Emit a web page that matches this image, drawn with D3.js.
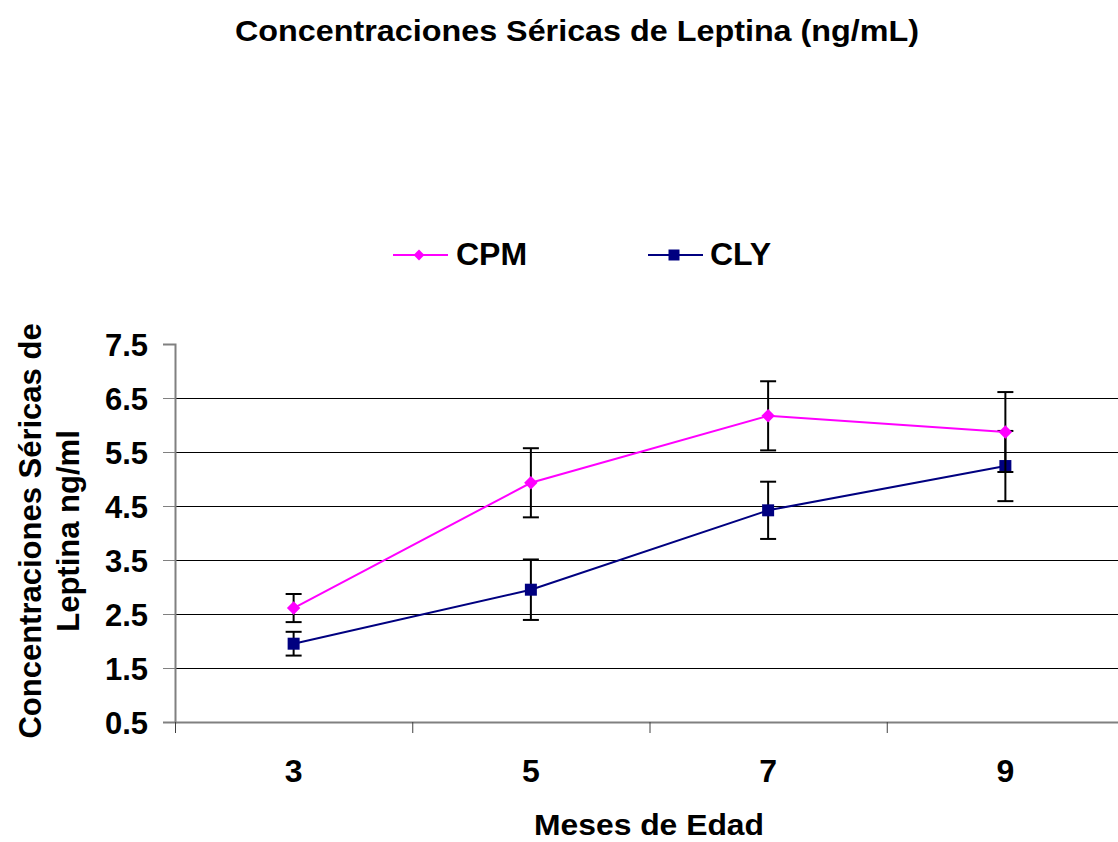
<!DOCTYPE html>
<html><head><meta charset="utf-8">
<script src="https://cdn.jsdelivr.net/npm/d3@7"></script>
<style>body{margin:0;background:#fff}svg{display:block;font-family:Arial,"Liberation Sans",sans-serif;font-weight:bold}</style>
</head><body>
<svg id="c" width="1118" height="842"></svg>
<script>
const categories = ["3","5","7","9"];
const cpm = [2.61, 4.93, 6.17, 5.87];
const cpmErr = [0.26, 0.64, 0.64, 0.74];
const cly = [1.95, 2.95, 4.42, 5.24];
const clyErr = [0.22, 0.56, 0.53, 0.65];
const yTicks = [0.5,1.5,2.5,3.5,4.5,5.5,6.5,7.5];

const svg = d3.select("#c");
const FF = "Arial, 'Liberation Sans', sans-serif";
const L = 175, R = 1124, T = 344, B = 722;
const x = d3.scaleBand().domain(categories).range([L, R]);
const y = d3.scaleLinear().domain([0.5, 7.5]).range([B, T]);

// title
svg.append("text").attr("x", 577).attr("y", 41).attr("text-anchor","middle")
  .attr("font-size", 30).attr("textLength", 684).attr("lengthAdjust","spacingAndGlyphs")
  .text("Concentraciones Séricas de Leptina (ng/mL)");

// gridlines
svg.append("g").selectAll("line").data(yTicks.filter(d => d > 0.5 && d < 7.5)).join("line")
  .attr("x1", L).attr("x2", R).attr("y1", d => y(d) + 0.5).attr("y2", d => y(d) + 0.5)
  .attr("stroke", "#000").attr("stroke-width", 1);

// y axis
const ya = svg.append("g").attr("transform", `translate(${L},0)`)
  .call(d3.axisLeft(y).tickValues(yTicks).tickFormat(d3.format(".1f")).tickSize(12).tickPadding(15));
ya.select(".domain").attr("stroke", "#808080").attr("stroke-width", 2);
ya.selectAll(".tick line").attr("stroke", "#808080").attr("stroke-width", 1);
ya.selectAll("text").attr("font-size", 31).attr("font-weight","bold").attr("fill","#000")
  .attr("font-family", FF).attr("dy", "0.36em");

// x axis
const xa = svg.append("g").attr("transform", `translate(0,${B})`)
  .call(d3.axisBottom(x).tickSize(0).tickPadding(37));
xa.select(".domain").attr("stroke", "#808080").attr("stroke-width", 2);
xa.selectAll("text").attr("font-size", 32).attr("font-weight","bold").attr("fill","#000")
  .attr("font-family", FF);
svg.append("g").selectAll("line").data(categories).join("line")
  .attr("x1", d => x(d) + 0.5).attr("x2", d => x(d) + 0.5).attr("y1", B).attr("y2", B + 11)
  .attr("stroke", "#404040").attr("stroke-width", 1);

// axis titles
svg.append("text").attr("x", 649).attr("y", 835).attr("text-anchor","middle")
  .attr("font-size", 30).attr("textLength", 230).attr("lengthAdjust","spacingAndGlyphs")
  .text("Meses de Edad");
const yt = svg.append("text").attr("transform", "translate(0,531) rotate(-90)")
  .attr("text-anchor","middle").attr("font-size", 31);
yt.append("tspan").attr("x", 0).attr("y", 41).text("Concentraciones Séricas de");
yt.append("tspan").attr("x", 0).attr("y", 79).text("Leptina ng/ml");

const cx = d => x(d) + x.bandwidth() / 2;

function series(vals, errs, color, sym, size) {
  const g = svg.append("g");
  const line = d3.line().x((d, i) => cx(categories[i])).y(d => y(d));
  g.append("path").attr("d", line(vals)).attr("fill","none").attr("stroke", color).attr("stroke-width", 2);
  const eb = g.append("g").selectAll("g").data(vals).join("g");
  eb.append("line").attr("x1", (d,i) => cx(categories[i])).attr("x2", (d,i) => cx(categories[i]))
    .attr("y1", (d,i) => y(d + errs[i])).attr("y2", (d,i) => y(d - errs[i]))
    .attr("stroke", "#000").attr("stroke-width", 2);
  [1, -1].forEach(s => {
    eb.append("line").attr("x1", (d,i) => cx(categories[i]) - 8).attr("x2", (d,i) => cx(categories[i]) + 8)
      .attr("y1", (d,i) => y(d + s * errs[i])).attr("y2", (d,i) => y(d + s * errs[i]))
      .attr("stroke", "#000").attr("stroke-width", 2);
  });
  g.append("g").selectAll("path").data(vals).join("path")
    .attr("d", d3.symbol().type(sym).size(size))
    .attr("transform", (d,i) => `translate(${cx(categories[i])},${y(d)})`)
    .attr("fill", color);
}
series(cly, clyErr, "#000080", d3.symbolSquare, 144);
series(cpm, cpmErr, "#ff00ff", d3.symbolDiamond2, 115);

// legend
const leg = [{name:"CPM", color:"#ff00ff", sym:d3.symbolDiamond2, size:75, x:393},
             {name:"CLY", color:"#000080", sym:d3.symbolSquare, size:121, x:648}];
const lg = svg.append("g").selectAll("g").data(leg).join("g").attr("transform", d => `translate(${d.x},255)`);
lg.append("line").attr("x1", 0).attr("x2", 55).attr("stroke", d => d.color).attr("stroke-width", 2);
lg.append("path").attr("d", d => d3.symbol().type(d.sym).size(d.size)()).attr("transform","translate(26,0)")
  .attr("fill", d => d.color);
lg.append("text").attr("x", d => d.name === "CPM" ? 63 : 62).attr("y", 10).attr("font-size", 32).text(d => d.name);
</script>
</body></html>
